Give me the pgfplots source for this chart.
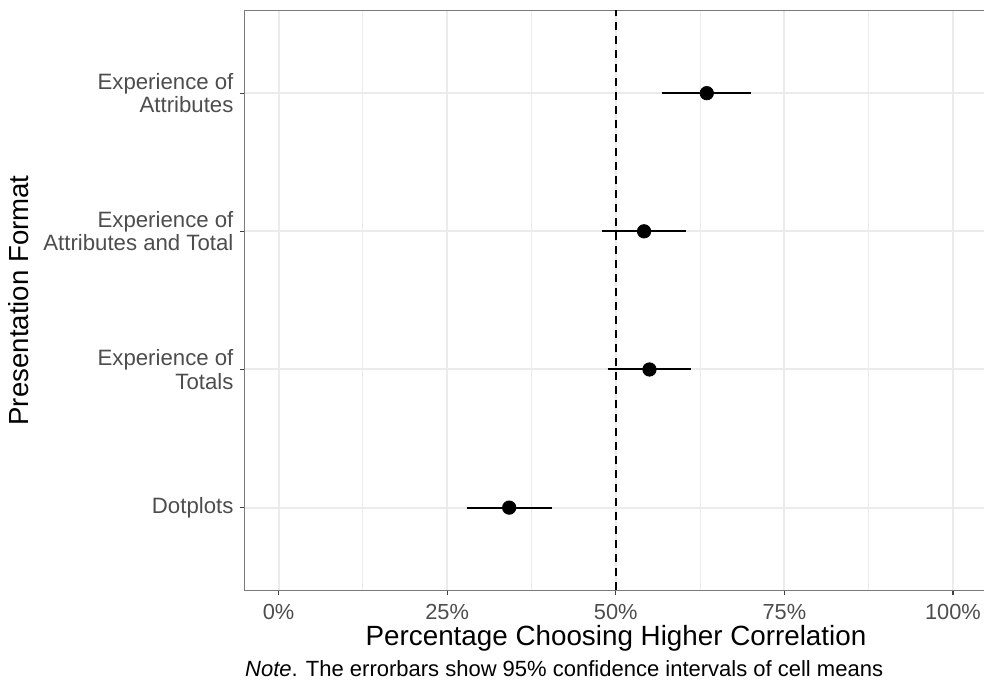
\documentclass[border=0pt]{standalone}
\usepackage{pgfplots}
\pgfplotsset{compat=1.18}
\usepackage{fontspec}
\setmainfont{Liberation Sans}
\definecolor{gridc}{HTML}{EBEBEB}
\definecolor{tickc}{HTML}{4D4D4D}
\definecolor{borderc}{HTML}{7A7A7A}
\begin{document}
\begin{tikzpicture}
\begin{axis}[
  at={(0,0)}, anchor=south west,
  scale only axis,
  width=370.95pt, height=290.1pt,
  xmin=-5, xmax=105,
  ymin=0.4, ymax=4.6,
  xtick={0,25,50,75,100},
  xticklabels={0\%,25\%,50\%,75\%,100\%},
  minor xtick={12.5,37.5,62.5,87.5},
  ytick={1,2,3,4},
  yticklabels={Dotplots,{Experience of\\Totals},{Experience of\\Attributes and Total},{Experience of\\Attributes}},
  xmajorgrids, xminorgrids, ymajorgrids,
  major grid style={gridc, line width=1pt},
  minor grid style={gridc, line width=0.5pt},
  axis line style={borderc, line width=0.6pt},
  tick align=outside,
  major tick length=2.5pt,
  minor tick length=0pt,
  tick style={black!75, line width=0.6pt},
  xtick pos=left, ytick pos=left,
  xticklabel style={font=\fontsize{10.9}{12}\selectfont, text=tickc, anchor=north, inner sep=0pt, yshift=-4.2pt},
  yticklabel style={font=\fontsize{11.1}{11.6}\selectfont, text=tickc, anchor=east, align=right, inner sep=0pt, xshift=-3pt},
  clip=false,
]
\addplot [black, line width=1pt, dash pattern=on 4pt off 3pt] coordinates {(50,0.4) (50,4.6)};
% error bars (95% CI)
\addplot [black, line width=1pt] coordinates {(56.9,4) (70.05,4)};
\addplot [black, line width=1pt] coordinates {(48.0,3) (60.4,3)};
\addplot [black, line width=1pt] coordinates {(48.8,2) (61.2,2)};
\addplot [black, line width=1pt] coordinates {(27.9,1) (40.5,1)};
% cell means
\addplot [only marks, mark=*, mark size=3.35pt, black] coordinates {(63.5,4) (54.2,3) (55.0,2) (34.2,1)};
\end{axis}
\node[anchor=base, font=\fontsize{13.9}{15}\selectfont] at (185.6pt,-27.4pt) {Percentage Choosing Higher Correlation};
\node[anchor=base, rotate=90, font=\fontsize{13.8}{15}\selectfont] at (-108.25pt,145.05pt) {Presentation Format};
\node[anchor=base west, inner sep=0pt, font=\fontsize{11}{12}\selectfont] at (0pt,-43.1pt) {\textit{Note}. The errorbars show 95\% confidence intervals of cell means};
\pgfresetboundingbox
\path[use as bounding box] (-122.4pt,-46.25pt) rectangle (369.6pt,295.25pt);
\end{tikzpicture}
\end{document}
